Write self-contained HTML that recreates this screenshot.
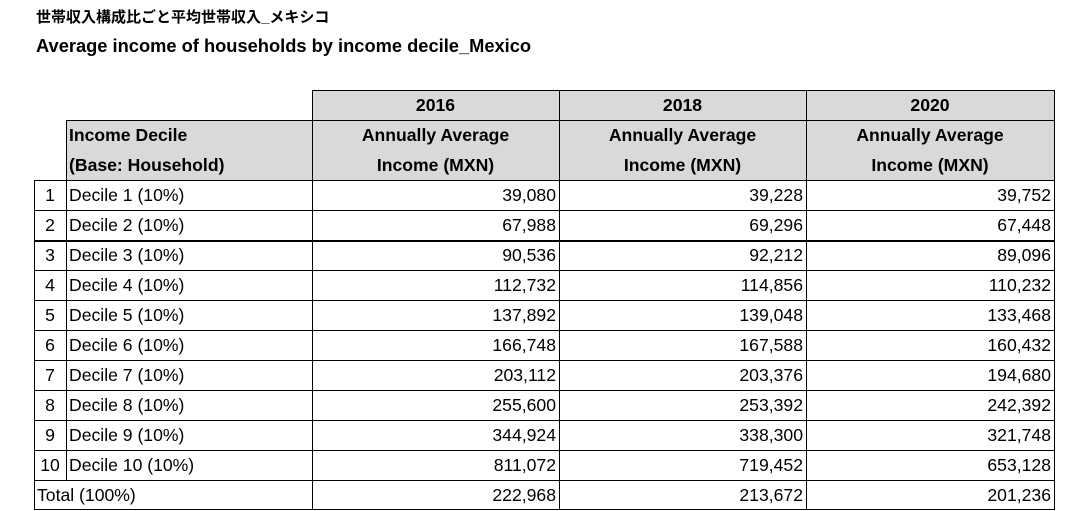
<!DOCTYPE html><html><head><meta charset="utf-8"><style>
body{margin:0;width:1090px;height:511px;background:#fff;position:relative;font-family:"Liberation Sans","Noto Sans CJK JP",sans-serif;color:#000;overflow:hidden}
.t{position:absolute;white-space:nowrap}
.c{position:absolute;box-sizing:border-box;font-size:17.6px;line-height:30px;padding-top:0px;white-space:nowrap}
.h{background:#d9d9d9;font-weight:bold;text-align:center}
.l{position:absolute;background:#000}
</style></head><body>
<div class="t" style="left:36px;top:6px;font-size:15px;font-weight:bold">世帯収入構成比ごと平均世帯収入_メキシコ</div>
<div class="t" style="left:36px;top:35px;font-size:18.3px;font-weight:bold">Average income of households by income decile_Mexico</div>

<div class="c h" style="left:312px;top:90px;width:742px;height:30px"></div>
<div class="c h" style="left:66px;top:120px;width:988px;height:60px"></div>
<div class="c" style="left:312px;top:90px;width:247px;font-weight:bold;text-align:center">2016</div>
<div class="c" style="left:559px;top:90px;width:247px;font-weight:bold;text-align:center">2018</div>
<div class="c" style="left:806px;top:90px;width:248px;font-weight:bold;text-align:center">2020</div>
<div class="c" style="left:69px;top:120px;font-weight:bold">Income Decile<br>(Base: Household)</div>
<div class="c" style="left:312px;top:120px;width:247px;font-weight:bold;text-align:center">Annually Average<br>Income (MXN)</div>
<div class="c" style="left:559px;top:120px;width:247px;font-weight:bold;text-align:center">Annually Average<br>Income (MXN)</div>
<div class="c" style="left:806px;top:120px;width:248px;font-weight:bold;text-align:center">Annually Average<br>Income (MXN)</div>

<div id="rows"></div>
<script>
var d=[["39,080","39,228","39,752"],["67,988","69,296","67,448"],["90,536","92,212","89,096"],["112,732","114,856","110,232"],["137,892","139,048","133,468"],["166,748","167,588","160,432"],["203,112","203,376","194,680"],["255,600","253,392","242,392"],["344,924","338,300","321,748"],["811,072","719,452","653,128"]];
var h="";
for(var i=0;i<10;i++){var y=180+i*30;
h+='<div class="c" style="left:34px;top:'+y+'px;width:32px;text-align:center">'+(i+1)+'</div>';
h+='<div class="c" style="left:69px;top:'+y+'px">Decile '+(i+1)+' (10%)</div>';
var xs=[312,559,806];for(var j=0;j<3;j++)h+='<div class="c" style="left:'+xs[j]+'px;top:'+y+'px;width:'+(j==2?248:247)+'px;text-align:right;padding-right:3px">'+d[i][j]+'</div>';
h+='<div class="l" style="left:34px;top:'+(y+30)+'px;width:1021px;height:'+(i==1?2:1)+'px"></div>';}
h+='<div class="c" style="left:37px;top:480px">Total (100%)</div>';
var t=["222,968","213,672","201,236"],xs=[312,559,806];
for(var j=0;j<3;j++)h+='<div class="c" style="left:'+xs[j]+'px;top:480px;width:'+(j==2?248:247)+'px;text-align:right;padding-right:3px">'+t[j]+'</div>';
document.getElementById("rows").innerHTML=h;
</script>
<div class="l" style="left:312px;top:90px;width:743px;height:1px"></div>
<div class="l" style="left:66px;top:120px;width:989px;height:1px"></div>
<div class="l" style="left:34px;top:180px;width:1021px;height:1px"></div>
<div class="l" style="left:34px;top:509px;width:1021px;height:1px"></div>
<div class="l" style="left:34px;top:180px;width:1px;height:330px"></div>
<div class="l" style="left:66px;top:120px;width:1px;height:360px"></div>
<div class="l" style="left:312px;top:90px;width:1px;height:420px"></div>
<div class="l" style="left:559px;top:90px;width:1px;height:420px"></div>
<div class="l" style="left:806px;top:90px;width:1px;height:420px"></div>
<div class="l" style="left:1054px;top:90px;width:1px;height:420px"></div>
</body></html>
